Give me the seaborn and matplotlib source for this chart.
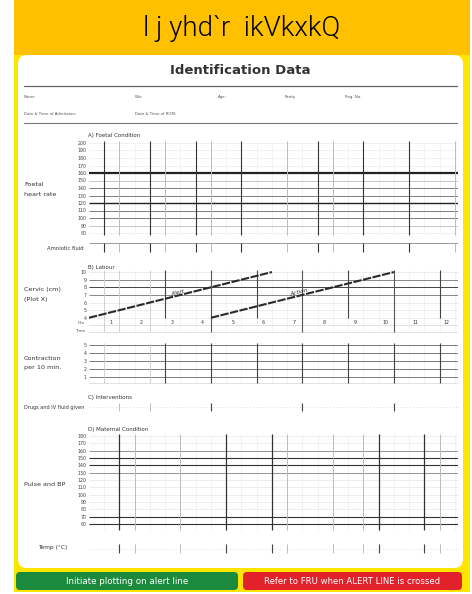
import numpy as np
import pandas as pd
import seaborn as sns
import matplotlib.pyplot as plt
from matplotlib.patches import FancyBboxPatch, Rectangle

# ---- chart values ----
hours = list(range(1, 13))

fhr_levels = [200, 190, 180, 170, 160, 150, 140, 130, 120, 110, 100, 90, 80]
fhr_bold = [160, 120]
fhr_mid = [140, 130, 110, 100]
fhr_light = [150, 90]
fhr_dark_cols = [0.5, 2, 3.5, 5, 7.5, 9, 10.5]
fhr_light_cols = [1, 2.5, 4, 6.5, 8, 12]

cervix_levels = [10, 9, 8, 7, 6, 5, 4]
cervix_dark = [8]
cervix_mid = [9, 7]
alert_hours = [0, 6]
alert_cm = [4, 10]
action_hours = [4, 10]
action_cm = [4, 10]
labour_short_cols = [2.5, 5.5, 8.5, 11.5]
labour_long_cols = [4, 7, 10]
labour_light_cols = [0.5, 1, 2]

contraction_levels = [5, 4, 3, 2, 1]
contraction_cols = [2.5, 4, 5.5, 7, 8.5, 10, 11.5]
contraction_light_cols = [0.5, 2]

drug_dark_cols = [4, 7, 10]
drug_light_cols = [1, 2]

bp_levels = [180, 170, 160, 150, 140, 130, 120, 110, 100, 90, 80, 70, 60]
bp_dark = [150, 140, 70, 60]
bp_mid = [160, 130]
bp_dark_cols = [1, 4.5, 6, 9.5, 11]
bp_light_cols = [1.5, 3, 6.5, 8, 9, 11.5]

id_row1 = ["Name", "W/o", "Age:", "Parity", "Reg. No."]
id_row2 = ["Date & Time of Admission:", "Date & Time of ROM:"]

sns.set_style("white")
plt.rcParams['font.family'] = ['DejaVu Sans']

W, H = 472, 594
fig = plt.figure(figsize=(W / 100, H / 100), dpi=100)
fig.patch.set_facecolor('white')

# background canvas in pixel units
bg = fig.add_axes([0, 0, 1, 1])
bg.set_xlim(0, W)
bg.set_ylim(H, 0)
bg.axis('off')

bg.add_patch(Rectangle((14, 0), 456, 592, color='#FFE400', lw=0))
bg.add_patch(Rectangle((14, 0), 456, 55, color='#FFC000', lw=0))
bg.add_patch(FancyBboxPatch((18, 55), 445, 513, boxstyle='round,pad=0,rounding_size=9',
                            fc='white', ec='none'))
bg.add_patch(FancyBboxPatch((16, 572), 222, 18, boxstyle='round,pad=0,rounding_size=4',
                            fc='#1B8A3C', ec='none'))
bg.add_patch(FancyBboxPatch((243, 572), 219, 18, boxstyle='round,pad=0,rounding_size=4',
                            fc='#E2222B', ec='none'))
bg.text(127, 581.5, "Initiate plotting on alert line", color='white', fontsize=6.3,
        ha='center', va='center')
bg.text(352, 581.5, "Refer to FRU when ALERT LINE is crossed", color='white', fontsize=6.1,
        ha='center', va='center')

bg.text(242, 29, "l j yhd`r  ikVkxkQ", fontsize=20, ha='center', va='center',
        family='Roboto', fontweight=300, color='black')
bg.text(240, 71, "Identification Data", fontsize=9.5, fontweight='bold', color='#333333',
        ha='center', va='center')
bg.plot([24, 457], [86, 86], color='#666666', lw=0.9)
bg.plot([24, 457], [123, 123], color='#777777', lw=0.8)
for name, x in zip(id_row1, [24, 135, 218, 285, 345]):
    bg.text(x, 97, name, fontsize=2.8, color='#555555', va='center')
for name, x in zip(id_row2, [24, 135]):
    bg.text(x, 114, name, fontsize=2.8, color='#555555', va='center')

lab = dict(fontsize=4.6, color='#333333', va='center')
sec = dict(fontsize=4.0, color='#333333', va='center')
bg.text(88, 136, "A) Foetal Condition", **sec)
bg.text(24, 185, "Foetal", **lab)
bg.text(24, 195, "heart rate", **lab)
bg.text(84, 248, "Amniotic fluid", ha='right', fontsize=3.8, color='#333333', va='center')
bg.text(88, 267, "B) Labour", **sec)
bg.text(24, 290, "Cervic (cm)", **lab)
bg.text(24, 299, "(Plot X)", **lab)
bg.text(85, 323, "Hrs", ha='right', fontsize=3.0, color='#444444', va='center')
bg.text(85, 331, "Time", ha='right', fontsize=3.0, color='#444444', va='center')
bg.text(24, 359, "Contraction", **lab)
bg.text(24, 368, "per 10 min.", **lab)
bg.text(88, 398, "C) Interventions", **sec)
bg.text(24, 407, "Drugs and IV fluid given", fontsize=3.6, color='#333333', va='center')
bg.text(88, 430, "D) Maternal Condition", **sec)
bg.text(24, 484, "Pulse and BP", **lab)
bg.text(38, 548, "Temp (°C)", fontsize=4.2, color='#333333', va='center')

X0, X1 = 89, 458
XLIM = (0, 12.1)
half_hours = np.arange(0.5, 12.1, 0.5)


def panel(y0, y1, ylim):
    ax = fig.add_axes([X0 / W, 1 - y1 / H, (X1 - X0) / W, (y1 - y0) / H])
    ax.set_facecolor('none')
    for s in ax.spines.values():
        s.set_visible(False)
    ax.set_xlim(*XLIM)
    ax.set_ylim(*ylim)
    ax.set_xticks([])
    ax.set_yticks([])
    ax.tick_params(length=0, pad=1.5, labelsize=3.4, labelcolor='#444444')
    return ax


# A) Foetal condition
ax = panel(140, 236, (76, 204))
ax.set_yticks(fhr_levels)
ax.set_yticklabels(fhr_levels)
ax.vlines(half_hours, 80, 200, color='#eeeeee', lw=0.5)
ax.hlines(fhr_levels, 0, 12.1, color='#ececec', lw=0.5)
ax.hlines(fhr_light, 0, 12.1, color='#b5b5b5', lw=0.5)
ax.hlines(fhr_mid, 0, 12.1, color='#6a6a6a', lw=0.6)
ax.hlines(fhr_bold, 0, 12.1, color='#222222', lw=[1.6, 1.0])
ax.vlines(fhr_light_cols, 78, 202, color='#bbbbbb', lw=0.7)
ax.vlines(fhr_dark_cols, 78, 202, color='#333333', lw=0.8)

# amniotic fluid row
ax = panel(240, 254, (0, 1))
ax.hlines([0.8], 0, 12.1, color='#888888', lw=0.6)
ax.vlines(fhr_light_cols, 0.15, 0.8, color='#bbbbbb', lw=0.7)
ax.vlines(fhr_dark_cols, 0.15, 0.8, color='#333333', lw=0.8)

# B) Labour
ax = panel(268, 333, (2.0, 10.53))
ax.set_yticks(cervix_levels)
ax.set_yticklabels(cervix_levels)
ax.vlines(half_hours, 2.1, 10.3, color='#f0f0f0', lw=0.5)
ax.hlines(cervix_levels, 0, 12.1, color='#e4e4e4', lw=0.5)
ax.hlines([2.1, 3.0], 0, 12.1, color='#dddddd', lw=0.6)
ax.hlines(cervix_mid, 0, 12.1, color='#777777', lw=0.6)
ax.hlines(cervix_dark, 0, 12.1, color='#444444', lw=0.7)
ax.vlines(labour_light_cols, 2.1, 10.3, color='#cccccc', lw=0.6)
ax.vlines(labour_short_cols, 4.0, 10.3, color='#444444', lw=0.8)
ax.vlines(labour_long_cols, 2.1, 10.3, color='#555555', lw=0.8)
for h in hours:
    ax.text(h - 0.28, 3.33, str(h), fontsize=3.4, color='#333333', ha='center', va='center')

lines = pd.DataFrame({
    'hour': alert_hours + action_hours,
    'cm': alert_cm + action_cm,
    'line': ['Alert', 'Alert', 'Action', 'Action'],
})
sns.lineplot(data=lines, x='hour', y='cm', units='line', estimator=None, ax=ax,
             color='#2a2a2a', lw=1.5, linestyle=(0, (4, 0.7)), legend=False)
ax.set_xlim(*XLIM)
ax.set_ylim(2.0, 10.53)
ax.set_xlabel('')
ax.set_ylabel('')
ax.set_xticks([])
ang = 13.8
ax.text(2.9, 7.3, "Alert", fontsize=4.2, rotation=ang, style='italic', color='#333333',
        ha='center', va='center')
ax.text(6.9, 7.3, "Action", fontsize=4.2, rotation=ang, style='italic', color='#333333',
        ha='center', va='center')

# contractions
ax = panel(341, 384, (0.125, 5.5))
ax.set_yticks(contraction_levels)
ax.set_yticklabels(contraction_levels)
ax.vlines(half_hours, 0.2, 5.2, color='#f0f0f0', lw=0.5)
ax.hlines(contraction_levels, 0, 12.1, color='#666666', lw=0.6)
ax.hlines([0.2], 0, 12.1, color='#dddddd', lw=0.6)
ax.vlines(contraction_light_cols, 0.2, 5.2, color='#cccccc', lw=0.6)
ax.vlines(contraction_cols, 0.2, 5.2, color='#444444', lw=0.8)

# C) Interventions row
ax = panel(401, 413, (0, 1))
ax.hlines([0.5], 0, 12.1, color='#e6e6e6', lw=0.6, linestyle=(0, (2, 2)))
ax.vlines(drug_light_cols, 0.15, 0.85, color='#bbbbbb', lw=0.7)
ax.vlines(drug_dark_cols, 0.15, 0.85, color='#444444', lw=0.8)

# D) Maternal condition
ax = panel(432, 531, (50.5, 185.5))
ax.set_yticks(bp_levels)
ax.set_yticklabels(bp_levels)
ax.vlines(half_hours, 52, 183, color='#eeeeee', lw=0.5)
ax.hlines(bp_levels, 0, 12.1, color='#e6e6e6', lw=0.5)
ax.hlines(bp_mid, 0, 12.1, color='#888888', lw=0.6)
ax.hlines(bp_dark, 0, 12.1, color='#333333', lw=0.8)
ax.vlines(bp_light_cols, 52, 183, color='#bbbbbb', lw=0.7)
ax.vlines(bp_dark_cols, 52, 183, color='#333333', lw=0.9)

# temperature row
ax = panel(541, 556, (0, 1))
ax.hlines([0.5], 0, 12.1, color='#e6e6e6', lw=0.6, linestyle=(0, (2, 2)))
ax.vlines(bp_light_cols, 0.2, 0.8, color='#bbbbbb', lw=0.7)
ax.vlines(bp_dark_cols, 0.2, 0.8, color='#444444', lw=0.8)

fig.savefig('out.png', dpi=100)
